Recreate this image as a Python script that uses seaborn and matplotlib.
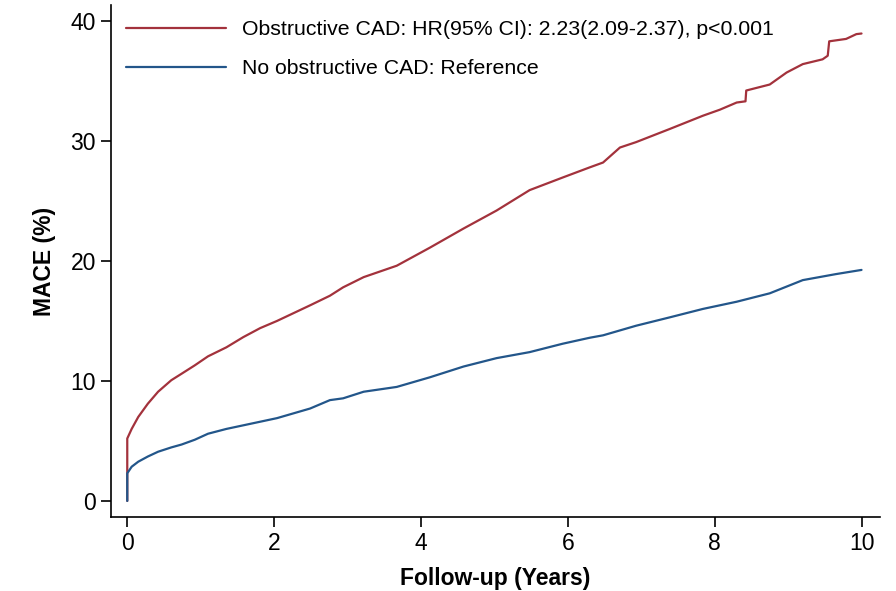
# Cumulative MACE incidence by obstructive CAD status

import numpy as np
import pandas as pd
import matplotlib.pyplot as plt
import seaborn as sns

# values (years, cumulative %)
obs_years = [0, 0, 0.06, 0.15, 0.28, 0.42, 0.6, 0.74, 0.92, 1.1, 1.35, 1.58, 1.81, 2.04,
             2.49, 2.76, 2.94, 3.22, 3.67, 4.12, 4.58, 5.03, 5.48, 5.93, 6.3, 6.48, 6.71,
             6.93, 7.39, 7.84, 8.07, 8.3, 8.42, 8.43, 8.75, 8.98, 9.2, 9.47, 9.54, 9.56,
             9.79, 9.93, 10.0]
obs_mace = [0, 5.2, 6.0, 7.0, 8.1, 9.1, 10.06, 10.6, 11.3, 12.05, 12.8, 13.65, 14.4, 15.0,
            16.3, 17.1, 17.8, 18.65, 19.6, 21.1, 22.7, 24.2, 25.9, 26.95, 27.8, 28.2, 29.45,
            29.9, 31.0, 32.1, 32.6, 33.2, 33.3, 34.2, 34.7, 35.7, 36.4, 36.8, 37.1, 38.3,
            38.5, 38.9, 38.95]

noobs_years = [0, 0, 0.06, 0.15, 0.28, 0.42, 0.6, 0.74, 0.92, 1.1, 1.35, 1.58, 1.81, 2.04,
               2.49, 2.76, 2.94, 3.22, 3.67, 4.12, 4.58, 5.03, 5.48, 5.93, 6.3, 6.48, 6.93,
               7.39, 7.84, 8.3, 8.75, 9.2, 9.65, 10.0]
noobs_mace = [0, 2.3, 2.85, 3.27, 3.7, 4.1, 4.46, 4.7, 5.1, 5.6, 6.0, 6.3, 6.6, 6.9,
              7.7, 8.4, 8.55, 9.1, 9.5, 10.3, 11.2, 11.9, 12.4, 13.1, 13.6, 13.8, 14.6,
              15.3, 16.0, 16.6, 17.3, 18.4, 18.9, 19.25]

labels = ["Obstructive CAD: HR(95% CI): 2.23(2.09-2.37), p<0.001",
          "No obstructive CAD: Reference"]
colors = ["#a3323c", "#23568a"]

df = pd.concat([
    pd.DataFrame({"years": obs_years, "mace": obs_mace, "group": labels[0]}),
    pd.DataFrame({"years": noobs_years, "mace": noobs_mace, "group": labels[1]}),
])

sns.set_style("ticks")
plt.rcParams['font.family'] = ['Liberation Sans', 'DejaVu Sans']

fig = plt.figure(figsize=(8.96, 5.91), dpi=100)
ax = fig.add_axes([0.124, 0.125, 0.858, 0.866])

sns.lineplot(data=df, x="years", y="mace", hue="group", palette=colors,
             hue_order=labels, sort=False, estimator=None, linewidth=1.6, ax=ax)

ax.set_xlim(-0.22, 10.25)
ax.set_ylim(-1.35, 41.3)
ax.set_xticks(np.arange(0, 11, 2))
ax.set_yticks(np.arange(0, 41, 10))
ax.tick_params(axis='both', labelsize=16.5, length=7, width=1.2, color='black',
               labelcolor='black', pad=4)
for s in ['left', 'bottom']:
    ax.spines[s].set_linewidth(1.2)
    ax.spines[s].set_color('black')
sns.despine(ax=ax)

ax.set_xlabel('Follow-up (Years)', fontsize=16.5, fontweight='bold', labelpad=8,
              color='black')
ax.set_ylabel('MACE (%)', fontsize=16.5, fontweight='bold', labelpad=10, color='black')

leg = ax.legend(loc='upper left', frameon=False, fontsize=15.3, handlelength=4.7,
                handletextpad=0.75, labelspacing=0.95, borderaxespad=0.3,
                bbox_to_anchor=(0.0, 1.0))
for line in leg.get_lines():
    line.set_linewidth(1.6)
for t in leg.get_texts():
    t.set_color('black')

plt.savefig('out.png', dpi=100)
